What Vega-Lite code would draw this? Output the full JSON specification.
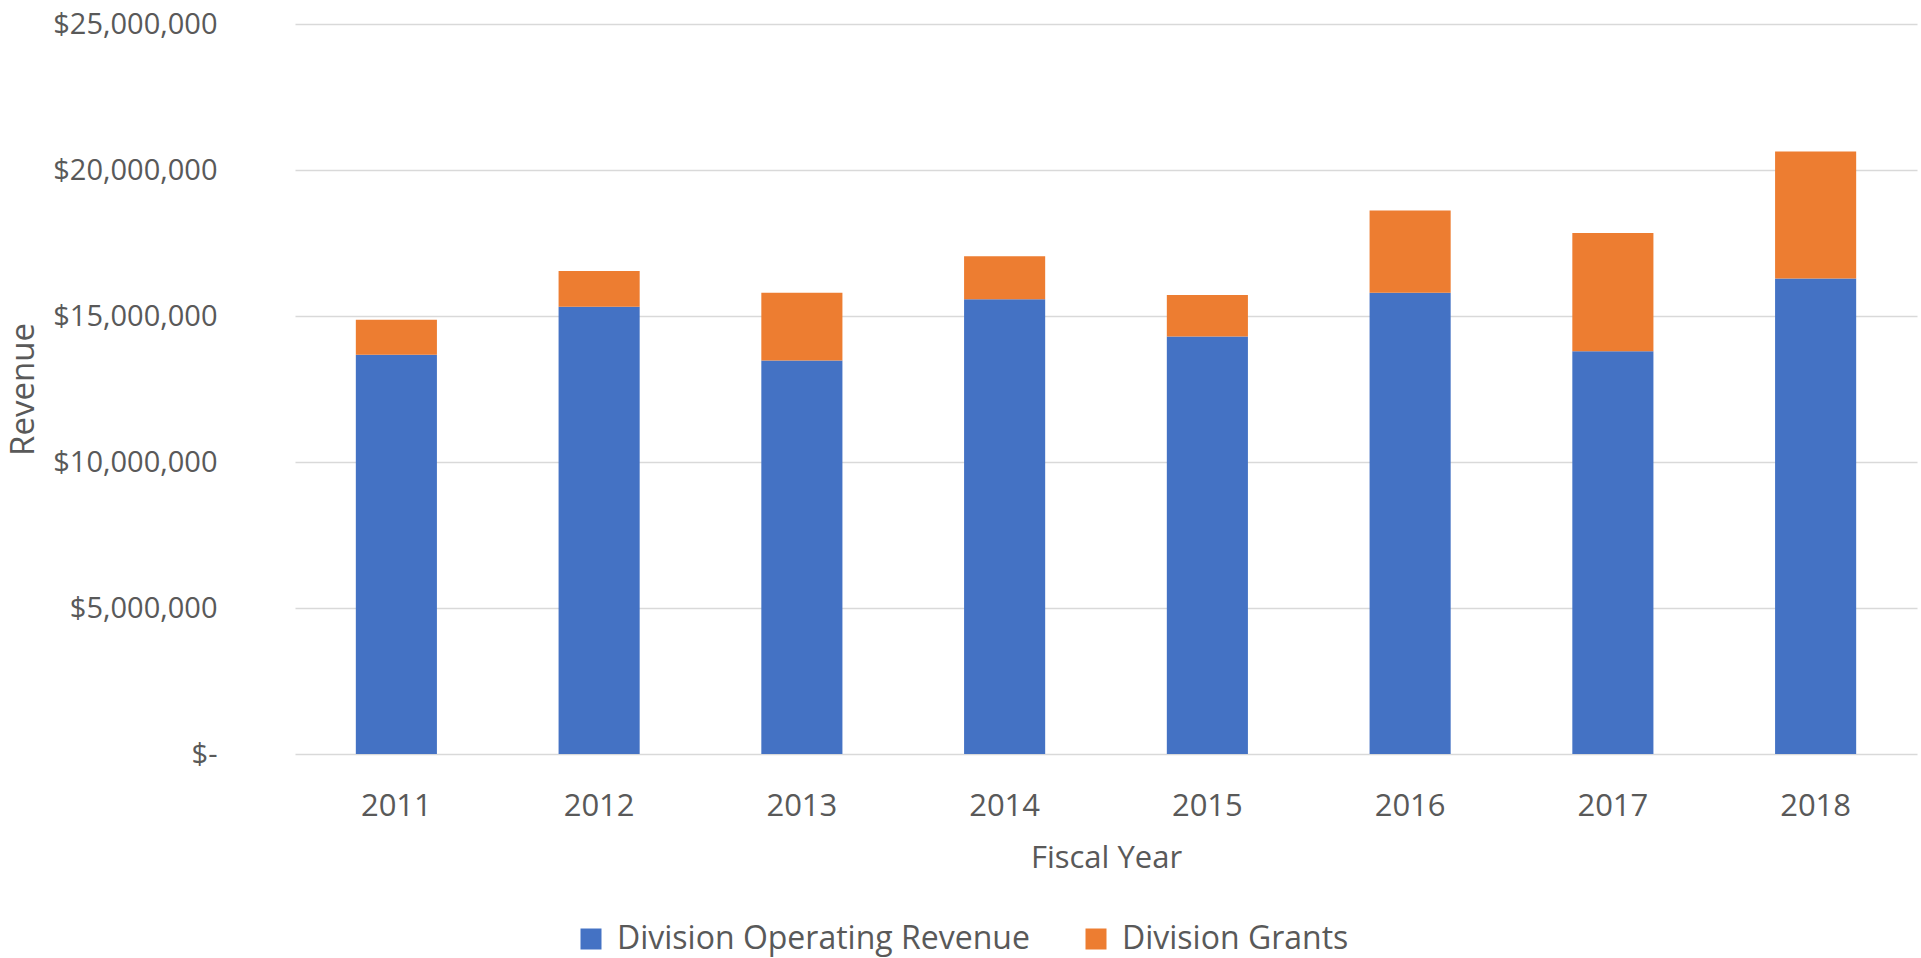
{
  "$schema": "https://vega.github.io/schema/vega-lite/v6.json",
  "autosize": {"type": "none"},
  "padding": {"left": 295, "top": 24, "right": 4, "bottom": 204},
  "width": 1622,
  "height": 730,
  "background": "#ffffff",
  "config": {
    "view": {"stroke": null},
    "font": "Open Sans",
    "axis": {"labelFont": "Open Sans", "titleFont": "Open Sans", "labelColor": "#595959", "titleColor": "#595959", "titleFontWeight": "normal"},
    "legend": {"labelFont": "Open Sans", "labelColor": "#595959"}
  },
  "data": {
    "values": [
      {"year": "2011", "series": "Division Operating Revenue", "value": 13670000},
      {"year": "2011", "series": "Division Grants", "value": 1200000},
      {"year": "2012", "series": "Division Operating Revenue", "value": 15320000},
      {"year": "2012", "series": "Division Grants", "value": 1220000},
      {"year": "2013", "series": "Division Operating Revenue", "value": 13480000},
      {"year": "2013", "series": "Division Grants", "value": 2320000},
      {"year": "2014", "series": "Division Operating Revenue", "value": 15570000},
      {"year": "2014", "series": "Division Grants", "value": 1480000},
      {"year": "2015", "series": "Division Operating Revenue", "value": 14300000},
      {"year": "2015", "series": "Division Grants", "value": 1420000},
      {"year": "2016", "series": "Division Operating Revenue", "value": 15800000},
      {"year": "2016", "series": "Division Grants", "value": 2810000},
      {"year": "2017", "series": "Division Operating Revenue", "value": 13790000},
      {"year": "2017", "series": "Division Grants", "value": 4050000},
      {"year": "2018", "series": "Division Operating Revenue", "value": 16280000},
      {"year": "2018", "series": "Division Grants", "value": 4350000}
    ]
  },
  "mark": {"type": "bar"},
  "encoding": {
    "x": {
      "field": "year", "type": "ordinal",
      "scale": {"paddingInner": 0.6, "paddingOuter": 0.3},
      "axis": {
        "title": "Fiscal Year", "labelAngle": 0, "domain": false, "ticks": false, "tickSize": 0,
        "labelFontSize": 31, "labelPadding": 61, "labelBaseline": "alphabetic",
        "titleFontSize": 31, "titleBaseline": "alphabetic", "titleY": 113
      }
    },
    "y": {
      "field": "value", "type": "quantitative", "stack": "zero",
      "scale": {"domain": [0, 25000000], "nice": false},
      "axis": {
        "title": "Revenue", "values": [0, 5000000, 10000000, 15000000, 20000000, 25000000],
        "domain": false, "ticks": false, "tickSize": 0, "labelPadding": 78, "labelFontSize": 29,
        "labelAlign": "right",
        "labelExpr": "datum.value == 0 ? '$-\u00a0' : '$' + format(datum.value, ',')",
        "gridColor": "#d9d9d9", "gridWidth": 1.5,
        "titleFontSize": 33, "titleAngle": -90, "titleAlign": "center", "titleBaseline": "middle",
        "titleX": -272, "titleY": 365
      }
    },
    "color": {
      "field": "series", "type": "nominal",
      "scale": {"domain": ["Division Operating Revenue", "Division Grants"], "range": ["#4472C4", "#ED7D31"]},
      "legend": {
        "title": null, "orient": "none", "direction": "horizontal",
        "legendX": 280, "legendY": 899, "padding": 0,
        "symbolType": "square", "symbolSize": 441, "symbolStrokeWidth": 0, "symbolOpacity": 1,
        "labelFontSize": 32, "labelOffset": 10, "columnPadding": 50, "labelLimit": 1000
      }
    },
    "order": {"field": "series", "sort": "descending"}
  }
}
